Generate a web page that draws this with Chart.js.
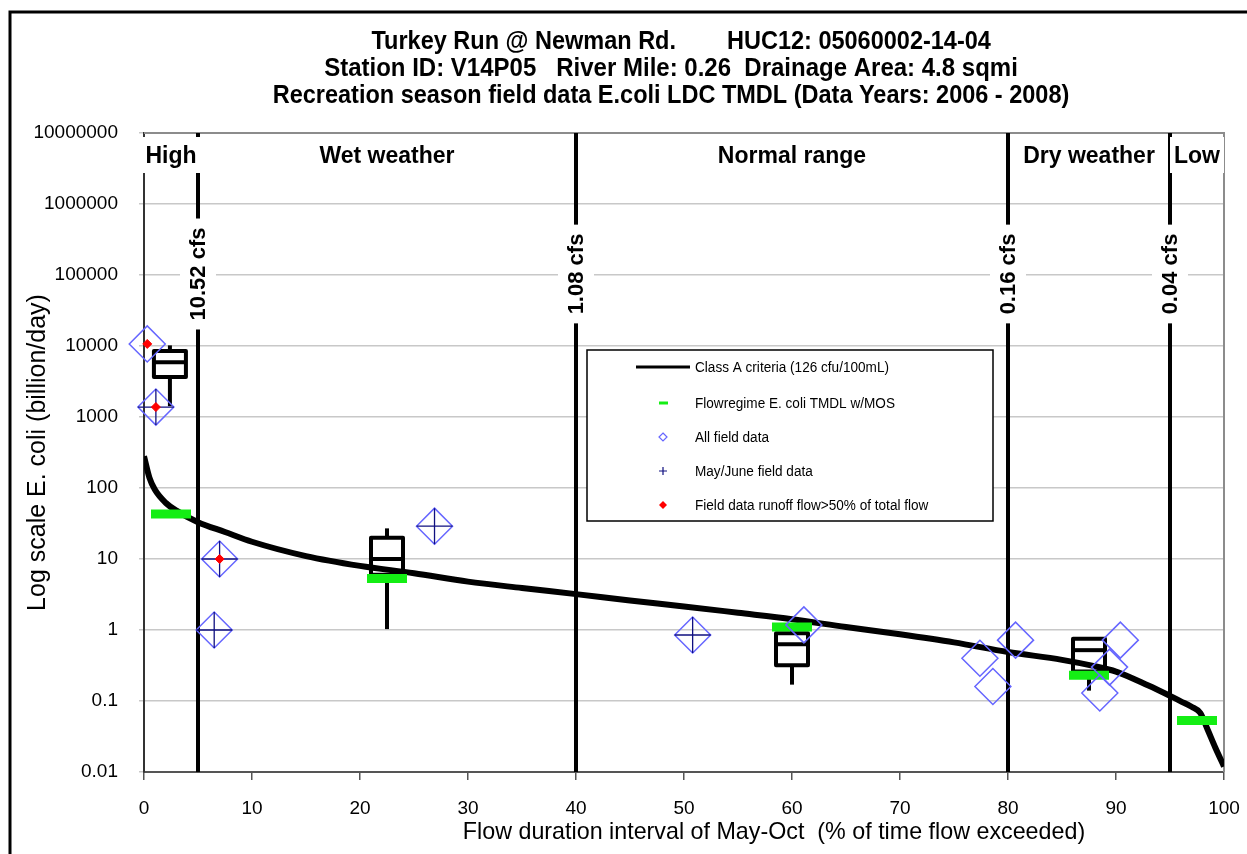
<!DOCTYPE html>
<html><head><meta charset="utf-8">
<script src="https://cdn.jsdelivr.net/npm/chart.js@4.4.1/dist/chart.umd.min.js"></script>
<style>html,body{margin:0;padding:0;background:#fff;}#wrap{width:1247px;height:854px;}</style>
</head><body><div id="wrap"><canvas id="c" width="1247" height="854"></canvas></div>
<script>
// ---- text ----
const titleLine1a = 'Turkey Run @ Newman Rd.';
const titleLine1b = 'HUC12: 05060002-14-04';
const titleLine2 = 'Station ID: V14P05   River Mile: 0.26  Drainage Area: 4.8 sqmi';
const titleLine3 = 'Recreation season field data E.coli LDC TMDL (Data Years: 2006 - 2008)';
const xTitle = 'Flow duration interval of May-Oct  (% of time flow exceeded)';
const yTitle = 'Log scale E. coli (billion/day)';

// ---- ticks ----
const xTicks = [0,10,20,30,40,50,60,70,80,90,100];
const yTicks = [0.01,0.1,1,10,100,1000,10000,100000,1000000,10000000];

// ---- flow regimes ----
const regimeBounds = [5,40,80,95];
const regimeBoundLabels = ['10.52 cfs','1.08 cfs','0.16 cfs','0.04 cfs'];
const regimeNames = ['High','Wet weather','Normal range','Dry weather','Low'];
const regimeMid = [2.5,22.5,60,87.5,97.5];

// ---- Class A criteria curve ----
const critX = [0,0.5,1,2,3,5,7.5,10,15,20,25,30,35,40,45,50,55,60,65,70,75,80,85,88,90,93,95,96,97,97.8,98.5,99.2,100];
const critY = [280,140,95,62,48,33,24,17.5,11,8,6.3,4.8,3.9,3.2,2.6,2.15,1.75,1.42,1.1,0.87,0.67,0.49,0.38,0.31,0.26,0.165,0.118,0.099,0.083,0.068,0.039,0.022,0.012];

// ---- TMDL with MOS per regime ----
const tmdlX = [2.5,22.5,60,87.5,97.5];
const tmdlY = [43,5.3,1.1,0.23,0.053];

// ---- box plots per regime ----
const boxX   = [2.4,22.5,60,87.5];
const boxMin = [1420,1.03,0.17,0.14];
const boxQ1  = [3650,6.0,0.32,0.26];
const boxMed = [5900,10,0.63,0.52];
const boxQ3  = [8500,20,0.9,0.75];
const boxMax = [10200,27,1.05,0.75];

// ---- field data ----
const allX = [0.3,1.1,7.0,6.5,26.9,50.8,61.1,77.4,80.7,78.6,90.4,89.4,88.5];
const allY = [10700,1380,10,1.0,29,0.85,1.18,0.4,0.72,0.16,0.72,0.3,0.13];
const mayX = [1.1,7.0,6.5,26.9,50.8];
const mayY = [1380,10,1.0,29,0.85];
const runX = [0.3,1.1,7.0];
const runY = [10700,1380,10];

const seriesLabels = ['Class A criteria (126 cfu/100mL)','Flowregime E. coli TMDL w/MOS','All field data','May/June field data','Field data runoff flow>50% of total flow'];

const pts = (xs, ys) => xs.map((v,i)=>({x:v,y:ys[i]}));

const SANS = '"Liberation Sans", Arial, sans-serif';
const GREEN = '#14ee14';
const DBLUE = '#6666ff';
const NAVY = '#101080';

function squeezeText(ctx, text, x, y, align, sx){
  ctx.save(); ctx.translate(x,y); ctx.scale(sx,1); ctx.textAlign=align; ctx.fillText(text,0,0); ctx.restore();
}

const overlay = {
  id:'overlay',
  beforeDraw(chart){
    const ctx = chart.ctx;
    ctx.save(); ctx.fillStyle='#fff'; ctx.fillRect(0,0,chart.width,chart.height); ctx.restore();
  },
  beforeDatasetsDraw(chart){
    const {ctx, chartArea:a, scales:{x,y}} = chart;
    ctx.save();
    ctx.strokeStyle='#8c8c8c'; ctx.lineWidth=2;
    ctx.beginPath(); ctx.moveTo(a.left,a.top); ctx.lineTo(a.right,a.top); ctx.lineTo(a.right,a.bottom); ctx.stroke();
    ctx.strokeStyle='#000'; ctx.lineWidth=4;
    regimeBounds.forEach(v=>{const px=x.getPixelForValue(v); ctx.beginPath(); ctx.moveTo(px,a.top); ctx.lineTo(px,a.bottom); ctx.stroke();});
    ctx.font='bold 22px '+SANS; ctx.textAlign='center'; ctx.textBaseline='middle';
    regimeBounds.forEach((v,i)=>{
      const px=x.getPixelForValue(v), t=regimeBoundLabels[i];
      const w=ctx.measureText(t).width;
      ctx.save(); ctx.translate(px,274); ctx.rotate(-Math.PI/2);
      ctx.fillStyle='#fff'; ctx.fillRect(-w/2-9,-18,w+18,36);
      ctx.fillStyle='#000'; ctx.fillText(t,0,1);
      ctx.restore();
    });
    ctx.font='bold 23px '+SANS;
    regimeNames.forEach((t,i)=>{
      const px=x.getPixelForValue(regimeMid[i]);
      const w=ctx.measureText(t).width;
      ctx.fillStyle='#fff'; ctx.fillRect(px-w/2-4,a.top+4,w+8,36);
      ctx.fillStyle='#000'; ctx.fillText(t,px,a.top+24);
    });
    ctx.lineWidth=4; ctx.strokeStyle='#000'; ctx.lineJoin='round';
    boxX.forEach((v,i)=>{
      const px=x.getPixelForValue(v), hw=16;
      ctx.beginPath(); ctx.moveTo(px,y.getPixelForValue(boxMin[i])); ctx.lineTo(px,y.getPixelForValue(boxMax[i])); ctx.stroke();
      const t=y.getPixelForValue(boxQ3[i]), b=y.getPixelForValue(boxQ1[i]);
      ctx.fillStyle='#fff'; ctx.fillRect(px-hw,t,2*hw,b-t);
      ctx.strokeRect(px-hw,t,2*hw,b-t);
      const m=y.getPixelForValue(boxMed[i]);
      ctx.beginPath(); ctx.moveTo(px-hw,m); ctx.lineTo(px+hw,m); ctx.stroke();
    });
    ctx.restore();
  },
  afterDatasetsDraw(chart){
    const ctx = chart.ctx;
    ctx.save();
    const lx=587, ly=350, lw=406, lh=171;
    ctx.fillStyle='#fff'; ctx.fillRect(lx,ly,lw,lh);
    ctx.strokeStyle='#000'; ctx.lineWidth=1.5; ctx.strokeRect(lx,ly,lw,lh);
    const rowY=[367,403,437,471,505], sx=663;
    ctx.font='14px '+SANS; ctx.fillStyle='#000'; ctx.textBaseline='middle';
    seriesLabels.forEach((t,i)=>squeezeText(ctx,t,695,rowY[i]+1,'left',0.97));
    ctx.strokeStyle='#000'; ctx.lineWidth=3;
    ctx.beginPath(); ctx.moveTo(636,rowY[0]); ctx.lineTo(690,rowY[0]); ctx.stroke();
    ctx.strokeStyle=GREEN; ctx.lineWidth=3;
    ctx.beginPath(); ctx.moveTo(659,rowY[1]); ctx.lineTo(668,rowY[1]); ctx.stroke();
    ctx.strokeStyle=DBLUE; ctx.lineWidth=1.2;
    ctx.beginPath(); ctx.moveTo(sx,rowY[2]-4); ctx.lineTo(sx+4,rowY[2]); ctx.lineTo(sx,rowY[2]+4); ctx.lineTo(sx-4,rowY[2]); ctx.closePath(); ctx.stroke();
    ctx.strokeStyle=NAVY;
    ctx.beginPath(); ctx.moveTo(sx,rowY[3]-4); ctx.lineTo(sx,rowY[3]+4); ctx.moveTo(sx-4,rowY[3]); ctx.lineTo(sx+4,rowY[3]); ctx.stroke();
    ctx.fillStyle='#ff0000';
    ctx.beginPath(); ctx.moveTo(sx,rowY[4]-4); ctx.lineTo(sx+4,rowY[4]); ctx.lineTo(sx,rowY[4]+4); ctx.lineTo(sx-4,rowY[4]); ctx.closePath(); ctx.fill();
    ctx.restore();
  },
  afterDraw(chart){
    const ctx=chart.ctx;
    ctx.save();
    ctx.strokeStyle='#000'; ctx.lineWidth=3;
    ctx.beginPath(); ctx.moveTo(10,854); ctx.lineTo(10,12); ctx.lineTo(1247,12); ctx.stroke();
    ctx.fillStyle='#000'; ctx.textBaseline='middle';
    ctx.font='bold 25px '+SANS;
    squeezeText(ctx,titleLine1a,676,42,'right',0.94);
    squeezeText(ctx,titleLine1b,727,42,'left',0.94);
    squeezeText(ctx,titleLine2,671,69,'center',0.96);
    squeezeText(ctx,titleLine3,671,96,'center',0.94);
    ctx.font='24px '+SANS;
    squeezeText(ctx,xTitle,774,832,'center',0.97);
    ctx.restore();
  }
};

new Chart(document.getElementById('c'), {
  type:'scatter',
  data:{datasets:[
    {label:seriesLabels[0], type:'line', data:pts(critX,critY), borderColor:'#000', borderWidth:6, pointRadius:0, cubicInterpolationMode:'monotone', fill:false, order:5},
    {label:seriesLabels[1], data:pts(tmdlX,tmdlY), pointStyle:'line', pointRadius:20, borderColor:GREEN, borderWidth:9, backgroundColor:GREEN, order:4},
    {label:seriesLabels[2], data:pts(allX,allY), pointStyle:'rectRot', pointRadius:18, borderColor:DBLUE, borderWidth:1.5, backgroundColor:'rgba(0,0,0,0)', order:3, clip:false},
    {label:seriesLabels[3], data:pts(mayX,mayY), pointStyle:'cross', pointRadius:18, borderColor:NAVY, borderWidth:1.3, order:2, clip:false},
    {label:seriesLabels[4], data:pts(runX,runY), pointStyle:'rectRot', pointRadius:4.5, borderColor:'#ff0000', backgroundColor:'#ff0000', borderWidth:1, order:1, clip:false}
  ]},
  options:{
    responsive:false, animation:false, devicePixelRatio:1,
    layout:{autoPadding:false, padding:{top:133,right:23,bottom:0,left:0}},
    plugins:{legend:{display:false}, tooltip:{enabled:false}, title:{display:false}},
    scales:{
      x:{type:'linear', min:0, max:100,
        afterBuildTicks:s=>{s.ticks=xTicks.map(v=>({value:v}));},
        afterFit:s=>{s.height=82; s.paddingLeft=0; s.paddingRight=0;},
        grid:{drawOnChartArea:false, drawTicks:true, tickLength:8, color:'#555', lineWidth:1.5},
        border:{display:true, color:'#555', width:2},
        ticks:{font:{family:SANS, size:19}, color:'#000', padding:17, maxRotation:0},
        title:{display:false}
      },
      y:{type:'logarithmic', min:0.01, max:10000000,
        afterBuildTicks:s=>{s.ticks=yTicks.map(v=>({value:v}));},
        afterFit:s=>{s.width=144; s.paddingTop=0; s.paddingBottom=0;},
        grid:{color:'#c8c8c8', lineWidth:1.5, tickLength:5, drawTicks:true},
        border:{display:true, color:'#333', width:2},
        ticks:{font:{family:SANS, size:19}, color:'#000', padding:21, callback:v=>String(v)},
        title:{display:true, text:yTitle, font:{family:SANS, size:25}, color:'#000', padding:{top:23,bottom:0}}
      }
    }
  },
  plugins:[overlay]
});
</script>
</body></html>
